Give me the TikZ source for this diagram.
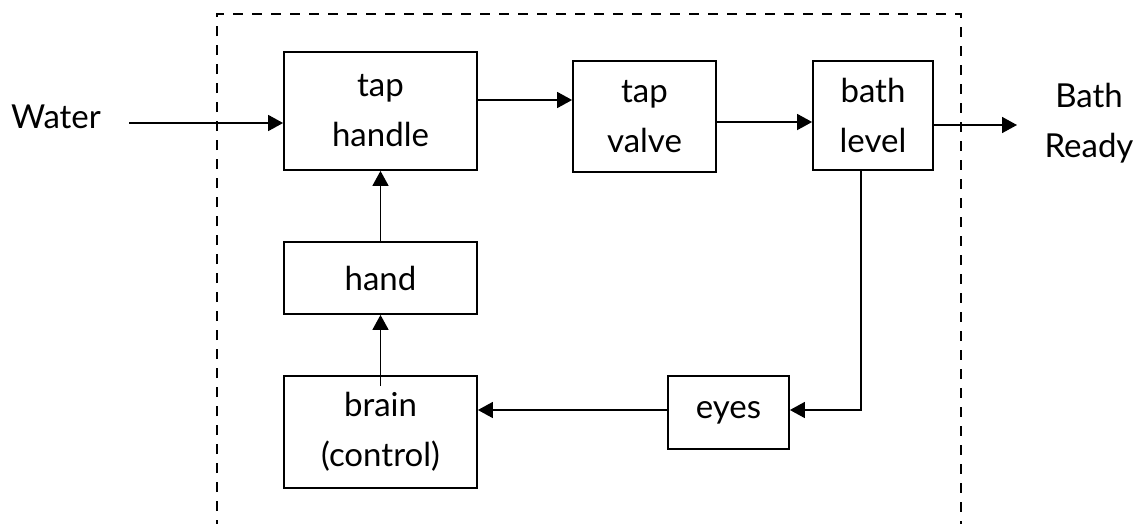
\documentclass[tikz,border=0pt]{standalone}
\usepackage{fontspec}
\setmainfont{Lato}
\usetikzlibrary{arrows.meta}
\begin{document}
\begin{tikzpicture}[x=1pt,y=-1pt,
  txt/.style={align=center,font=\fontsize{33}{50}\selectfont},
  block/.style={txt,draw,line width=1.8pt,inner sep=0pt},
  arr/.style={line width=1.6pt,-{Triangle[length=15pt,width=16pt]}},
  frame/.style={line width=2.4pt,dash pattern=on 10pt off 9pt}]
\useasboundingbox (0,0) rectangle (1142,523);

% system boundary, open at the bottom
\draw[frame] (217,530) -- (217,14) -- (961,14) -- (961,530);

% blocks
\node[block,minimum width=193pt,minimum height=118pt] (th) at (380.5,111) {tap\\handle};
\node[block,minimum width=143pt,minimum height=111pt] (tv) at (644.5,116.5) {tap\\valve};
\node[block,minimum width=120pt,minimum height=109pt] (bl) at (873,115.5) {bath\\level};
\node[block,minimum width=193pt,minimum height=72pt] (hd) at (380.5,278) {hand};
\node[block,minimum width=193pt,minimum height=112pt] (br) at (380.5,432) {brain\\(control)};
\node[block,minimum width=121pt,minimum height=73pt] (ey) at (728.5,412.5) {eyes};

% input and output labels
\node[txt,anchor=base] (water) at (56,128) {Water};
\node[txt] (ready) at (1089,123) {Bath\\Ready};
\coordinate (out) at (1017,125);

% connectors
\draw[arr] ([xshift=25pt]water.east |- 0,123) -- ([yshift=-12pt]th.west);
\draw[arr] ([yshift=11pt]th.east) -- ([yshift=11pt]th.east -| tv.west);
\draw[arr] ([yshift=-5.5pt]tv.east) -- ([yshift=-5.5pt]tv.east -| bl.west);
\draw[arr] ([yshift=-9.5pt]bl.east) -- (out);
\draw[arr] ([xshift=-12pt]bl.south) |- ([yshift=2.5pt]ey.east);
\draw[arr] ([yshift=2.5pt]ey.west) -- ([yshift=2.5pt]ey.west -| br.east);
\draw[arr] ([yshift=-11pt]br.north) -- (hd.south);
\draw[arr] (hd.north) -- (th.south);
\end{tikzpicture}
\end{document}
